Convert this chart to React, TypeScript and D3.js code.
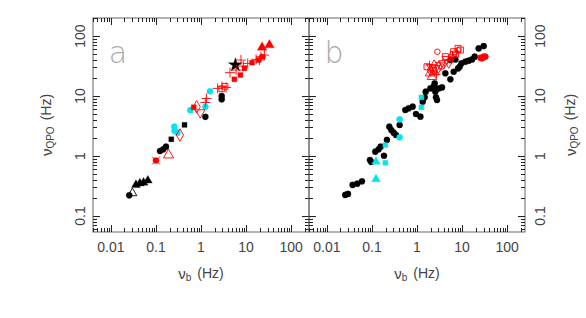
import React from "react";
import * as d3 from "d3";

type P = [number, number];

// ---------- Panel a ----------
const aBlackCircles: P[] = [[0.0255, 0.221], [0.123, 1.21], [0.145, 1.29], [0.167, 1.43], [1.25, 4.5], [2.88, 10], [2.88, 8.8]];
const aBlackOpenTriangles: P[] = [[0.03, 0.24]];
const aBlackTriangles: P[] = [[0.036, 0.33], [0.044, 0.35], [0.053, 0.36], [0.066, 0.39]];
const aBlackSquares: P[] = [[0.219, 1.9], [0.43, 3.3]];
const aBlackStars: P[] = [[5.8, 32.9]];
const aCyanCircles: P[] = [[0.255, 3.08], [0.259, 2.64], [0.3, 2.45], [0.58, 5.8], [1.25, 6.6], [1.58, 12]];
const aRedCircles: P[] = [[0.1, 0.84]];
const aRedCrosses: P[] = [[0.1, 0.84]];
const aRedOpenTriangles: P[] = [[0.19, 1.04]];
const aRedOpenDiamonds: P[] = [[0.34, 2.24], [0.8, 6.6]];
const aRedOpenInvTriangles: P[] = [[0.96, 5.3]];
const aRedSquares: P[] = [[0.69, 6.5], [5.5, 19], [7.5, 22.4], [9.2, 28.9], [13.6, 36], [19, 39.8], [23.4, 45.3]];
const aRedOpenSquares: P[] = [[2.9, 13.2], [3.4, 14.5]];
const aRedPluses: P[] = [[1.33, 9.1], [1.25, 7.8], [2.34, 13.4], [2.93, 14.3], [3.6, 13.9], [4.4, 24.5], [6.0, 27.1], [7.7, 39.8], [8.7, 31.6], [10.9, 35], [16.7, 40.9], [21.5, 45.3], [25.5, 48.2], [19.8, 39.8]];
const aRedTriangles: P[] = [[22.7, 64.8], [33, 70.8]];

// ---------- Panel b ----------
const bBlackCircles: P[] = [
  [0.0255, 0.224], [0.0293, 0.233], [0.0372, 0.329], [0.0472, 0.346], [0.06, 0.378],
  [0.0903, 0.858], [0.0966, 0.794], [0.1186, 1.18], [0.1406, 1.29], [0.156, 1.43],
  [0.185, 1.01], [0.215, 1.85], [0.243, 3.08], [0.269, 2.71], [0.303, 2.45],
  [0.341, 2.24], [0.412, 3.29], [0.55, 5.84], [0.653, 6.23], [0.801, 6.64],
  [0.95, 5.01], [1.19, 4.53], [1.34, 8.05], [1.48, 9.5], [1.56, 11.8],
  [1.98, 13.4], [2.35, 14.3], [2.47, 16.3], [2.55, 11.8], [2.64, 9.5],
  [2.78, 8.58], [3.03, 13.4], [3.59, 13.9], [4.26, 23.9], [5.5, 19],
  [6.53, 25.4], [8.15, 28.9], [8.87, 30.8], [9.67, 35], [11.9, 37.4],
  [14.1, 38.8], [16.7, 40.8], [19.1, 45.3], [23.4, 62.3], [30.3, 68.1],
  [5.5, 39.8], [7.1, 40.8],
];
const bCyanTriangles: P[] = [[0.123, 0.8], [0.123, 0.41]];
const bCyanSquares: P[] = [[0.198, 1.52], [0.198, 0.77], [1.25, 9.5], [1.25, 6.47]];
const bCyanCircles: P[] = [[0.412, 4.08], [0.412, 2.05]];
const bRedOpenSquares: P[] = [[1.67, 30.8], [4.26, 45.3], [6.53, 54.8], [8.15, 62.3], [9.18, 58.5], [7.2, 50], [2.3, 27]];
const bRedOpenCircles: P[] = [[2.83, 54.8], [8.15, 58], [3.6, 31]];
const bRedOpenTriangles: P[] = [[2.15, 21], [1.95, 24], [2.4, 25]];
const bRedOpenInvTriangles: P[] = [[2.55, 28.9], [3.3, 32.9], [3.91, 35], [5.06, 35.9], [2.1, 30], [4.6, 41]];
const bRedOpenDiamonds: P[] = [[2.4, 32], [3.0, 30], [5.8, 45], [2.0, 27]];
const bRedPluses: P[] = [[2.2, 26], [2.7, 23], [6.2, 48], [7.6, 53], [1.9, 33]];
const bRedCircles: P[] = [[25.5, 43.5], [30.3, 45.3], [33, 45.3], [27.8, 42.5]];

// axis ticks
const xTickLabels = ["0.01", "0.1", "1", "10", "100"];
const yTickLabels = ["0.1", "1", "10", "100"];

const RED = "#ff0000";
const CYAN = "#00e5ee";
const BLACK = "#000";
const FONT = "'Liberation Sans', Arial, sans-serif";
const TXT = "#444";

const top = 18, bottom = 232;
const panelA = [93, 309];
const panelB = [309, 525];
const xDomain: [number, number] = [0.004, 250];
const yDomain: [number, number] = [0.054, 200];

const y = d3.scaleLog().domain(yDomain).range([bottom, top]);
const xa = d3.scaleLog().domain(xDomain).range(panelA);
const xb = d3.scaleLog().domain(xDomain).range(panelB);

function minorTicks(dom: [number, number]) {
  const out: { v: number; major: boolean }[] = [];
  for (let e = -4; e <= 3; e++) {
    for (let m = 1; m <= 9; m++) {
      const v = m * Math.pow(10, e);
      if (v >= dom[0] * 0.999 && v <= dom[1] * 1.001) out.push({ v, major: m === 1 });
    }
  }
  return out;
}

type Kind = "circle" | "triangle" | "square" | "diamond" | "star" | "invtriangle";
const symType: Record<Kind, any> = {
  circle: d3.symbolCircle,
  triangle: d3.symbolTriangle,
  square: d3.symbolSquare,
  diamond: d3.symbolDiamond,
  star: d3.symbolStar,
  invtriangle: d3.symbolTriangle,
};

function Marks({ data, x, kind, color, filled, size }: { data: P[]; x: any; kind: Kind; color: string; filled: boolean; size: number }) {
  const path = d3.symbol().type(symType[kind]).size(size)() as string;
  return (
    <g>
      {data.map((d, i) => (
        <path
          key={i}
          d={path}
          transform={`translate(${x(d[0])},${y(d[1])})${kind === "invtriangle" ? " rotate(180)" : ""}`}
          fill={filled ? color : "none"}
          stroke={color}
          strokeWidth={filled ? 0.3 : 0.9}
        />
      ))}
    </g>
  );
}

function Plus({ data, x, color, r, diag }: { data: P[]; x: any; color: string; r: number; diag?: boolean }) {
  return (
    <g stroke={color} strokeWidth={0.9} fill="none">
      {data.map((d, i) => {
        const cx = x(d[0]), cy = y(d[1]);
        return diag ? (
          <path key={i} d={`M${cx - r},${cy - r}L${cx + r},${cy + r}M${cx - r},${cy + r}L${cx + r},${cy - r}`} />
        ) : (
          <path key={i} d={`M${cx - r},${cy}L${cx + r},${cy}M${cx},${cy - r}L${cx},${cy + r}`} />
        );
      })}
    </g>
  );
}

function Frame({ x, range, label }: { x: any; range: number[]; label: string }) {
  const xt = minorTicks(xDomain);
  const yt = minorTicks(yDomain);
  const [l, r] = range;
  return (
    <g>
      <rect x={l} y={top} width={r - l} height={bottom - top} fill="none" stroke="#666" strokeWidth={1} />
      <g stroke="#222" strokeWidth={1}>
        {xt.map((t, i) => {
          const px = Math.round(x(t.v)) + 0.5;
          const len = t.major ? 7 : 4;
          return (
            <g key={i}>
              <line x1={px} x2={px} y1={bottom} y2={bottom - len} />
              <line x1={px} x2={px} y1={top} y2={top + len} />
            </g>
          );
        })}
        {yt.map((t, i) => {
          const py = Math.round(y(t.v)) + 0.5;
          const len = t.major ? 7 : 4;
          return (
            <g key={i}>
              <line x1={l} x2={l + len} y1={py} y2={py} />
              <line x1={r} x2={r - len} y1={py} y2={py} />
            </g>
          );
        })}
      </g>
      {xTickLabels.map((s) => (
        <text key={s} x={x(+s)} y={247} textAnchor="middle" dominantBaseline="central" fontSize={14} fill={TXT} fontFamily={FONT}>
          {s}
        </text>
      ))}
      <text x={(l + r) / 2} y={273} textAnchor="middle" dominantBaseline="central" fontSize={14} fill={TXT} fontFamily={FONT}>
        <tspan fontSize={15}>ν</tspan>
        <tspan fontSize={10} dy={4}>b</tspan>
        <tspan dy={-4} dx={6}>(Hz)</tspan>
      </text>
      <text x={l + 25} y={52} textAnchor="middle" dominantBaseline="central" fontSize={30} fill="#aaa" fontFamily="'DejaVu Sans', sans-serif" fontWeight={200}>
        {label}
      </text>
    </g>
  );
}

function YLabels({ xPos, labelX }: { xPos: number; labelX: number }) {
  return (
    <g fontFamily={FONT} fill={TXT}>
      {yTickLabels.map((s) => (
        <text key={s} transform={`translate(${xPos},${y(+s)}) rotate(-90)`} textAnchor="middle" dominantBaseline="central" fontSize={14}>
          {s}
        </text>
      ))}
      <text transform={`translate(${labelX},125) rotate(-90)`} textAnchor="middle" dominantBaseline="central" fontSize={14}>
        <tspan fontSize={15}>ν</tspan>
        <tspan fontSize={10} dy={4}>QPO</tspan>
        <tspan dy={-4} dx={6}>(Hz)</tspan>
      </text>
    </g>
  );
}

export default function App() {
  return (
    <svg width={586} height={318} style={{ display: "block", position: "absolute", left: 0, top: 0 }}>
      <rect width={586} height={318} fill="#fff" />
      <Frame x={xa} range={panelA} label="a" />
      <Frame x={xb} range={panelB} label="b" />
      <YLabels xPos={80} labelX={46} />
      <YLabels xPos={540} labelX={570} />

      {/* panel a */}
      <Marks data={aBlackCircles} x={xa} kind="circle" color={BLACK} filled size={30} />
      <Marks data={aBlackOpenTriangles} x={xa} kind="triangle" color={BLACK} filled={false} size={34} />
      <Marks data={aBlackTriangles} x={xa} kind="triangle" color={BLACK} filled size={34} />
      <Marks data={aBlackSquares} x={xa} kind="square" color={BLACK} filled size={25} />
      <Marks data={aBlackStars} x={xa} kind="star" color={BLACK} filled size={60} />
      <Marks data={aCyanCircles} x={xa} kind="circle" color={CYAN} filled size={30} />
      <Marks data={aRedCircles} x={xa} kind="circle" color={RED} filled size={30} />
      <Plus data={aRedCrosses} x={xa} color={RED} r={4} diag />
      <Marks data={aRedOpenTriangles} x={xa} kind="triangle" color={RED} filled={false} size={45} />
      <Marks data={aRedOpenDiamonds} x={xa} kind="diamond" color={RED} filled={false} size={45} />
      <Marks data={aRedOpenInvTriangles} x={xa} kind="invtriangle" color={RED} filled={false} size={40} />
      <Marks data={aRedSquares} x={xa} kind="square" color={RED} filled size={25} />
      <Marks data={aRedOpenSquares} x={xa} kind="square" color={RED} filled={false} size={34} />
      <Plus data={aRedPluses} x={xa} color={RED} r={5} />
      <Marks data={aRedTriangles} x={xa} kind="triangle" color={RED} filled size={40} />

      {/* panel b */}
      <Marks data={bBlackCircles} x={xb} kind="circle" color={BLACK} filled size={30} />
      <Marks data={bCyanTriangles} x={xb} kind="triangle" color={CYAN} filled size={34} />
      <Marks data={bCyanSquares} x={xb} kind="square" color={CYAN} filled size={25} />
      <Marks data={bCyanCircles} x={xb} kind="circle" color={CYAN} filled size={30} />
      <Marks data={bRedOpenSquares} x={xb} kind="square" color={RED} filled={false} size={36} />
      <Marks data={bRedOpenCircles} x={xb} kind="circle" color={RED} filled={false} size={24} />
      <Marks data={bRedOpenTriangles} x={xb} kind="triangle" color={RED} filled={false} size={40} />
      <Marks data={bRedOpenInvTriangles} x={xb} kind="invtriangle" color={RED} filled={false} size={40} />
      <Marks data={bRedOpenDiamonds} x={xb} kind="diamond" color={RED} filled={false} size={40} />
      <Plus data={bRedPluses} x={xb} color={RED} r={4} />
      <Marks data={bRedCircles} x={xb} kind="circle" color={RED} filled size={30} />
    </svg>
  );
}
